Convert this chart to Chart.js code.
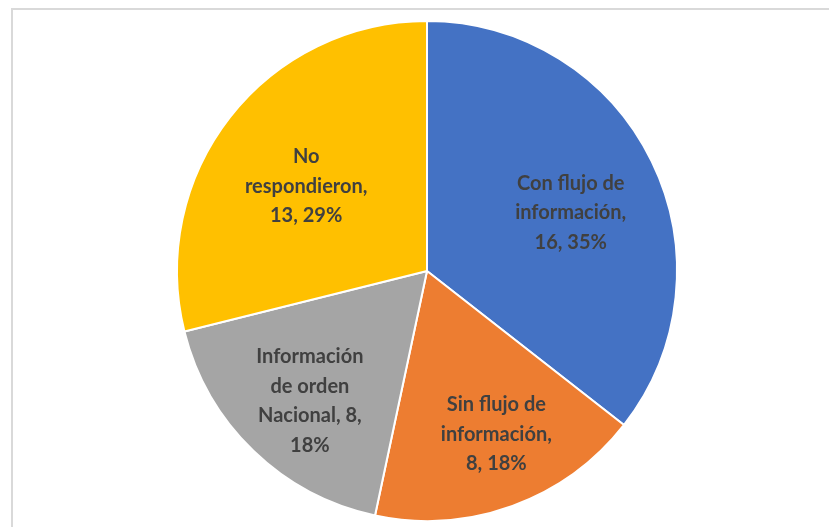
<!DOCTYPE html>
<html>
<head>
<meta charset="utf-8">
<script src="https://cdn.jsdelivr.net/npm/chart.js@4.4.0/dist/chart.umd.min.js"></script>
<style>
  html, body { margin: 0; padding: 0; background: #fff; overflow: hidden; }
  #frame { position: absolute; left: 11px; top: 8px; width: 900px; height: 600px; border: 2px solid #d9d9d9; }
  #wrap { position: absolute; left: 0; top: 0; width: 829px; height: 527px; }
</style>
</head>
<body>
<div id="frame"></div>
<div id="wrap"><canvas id="pieChart" width="829" height="527"></canvas></div>
<script>
// Pie Chart

const categories = ['Con flujo de información', 'Sin flujo de información', 'Información de orden Nacional', 'No respondieron'];
const values = [16, 8, 8, 13];
const labelLines = [
  ['Con flujo de', 'información,', '16, 35%'],
  ['Sin flujo de', 'información,', '8, 18%'],
  ['Información', 'de orden', 'Nacional, 8,', '18%'],
  ['No', 'respondieron,', '13, 29%']
];
const colors = ['#4472c4', '#ed7d31', '#a5a5a5', '#ffc000'];

const labelPlugin = {
  id: 'sliceLabels',
  afterDatasetsDraw(chart, args, opts) {
    const ctx = chart.ctx;
    const meta = chart.getDatasetMeta(0);
    ctx.save();
    ctx.font = 'bold 20px Lato, "Open Sans", sans-serif';
    ctx.fillStyle = '#404040';
    ctx.textAlign = 'center';
    ctx.textBaseline = 'middle';
    meta.data.forEach((arc, i) => {
      const p = arc.getProps(['x', 'y', 'startAngle', 'endAngle', 'outerRadius'], true);
      // label sits near the slice middle, nudged like Excel's best fit
      const mid = (p.startAngle + p.endAngle) / 2 + opts.shift[i] * Math.PI / 180;
      const r = p.outerRadius * opts.dist[i];
      const cx = p.x + Math.cos(mid) * r;
      const cy = p.y + Math.sin(mid) * r;
      const lines = labelLines[i];
      const lh = 29.5;
      lines.forEach((t, j) => {
        ctx.fillText(t, cx, cy + (j - (lines.length - 1) / 2) * lh);
      });
    });
    ctx.restore();
  }
};

const pieCtx = document.getElementById('pieChart');

new Chart(pieCtx, {
  type: 'pie',

  data: {
    labels: categories,

    datasets: [{
      data: values,
      backgroundColor: colors,
      borderColor: '#ffffff',
      borderWidth: 2
    }]
  },

  options: {
    responsive: false,
    animation: false,
    events: [],

    layout: {
      padding: { left: 176, right: 151, top: 20, bottom: 5 }
    },

    plugins: {
      legend: { display: false },
      tooltip: { enabled: false },
      sliceLabels: {
        dist: [0.62, 0.71, 0.70, 0.59],
        shift: [4, -3, -2, -3]
      }
    }
  },

  plugins: [labelPlugin]
});
</script>
</body>
</html>
